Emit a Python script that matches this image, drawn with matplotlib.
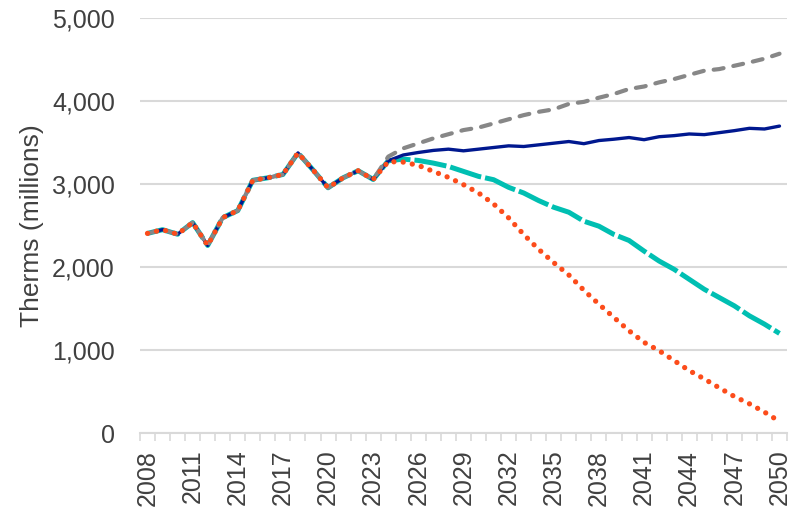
import numpy as np
import matplotlib
matplotlib.use("Agg")
from matplotlib import pyplot as plt
from matplotlib.ticker import FuncFormatter, MultipleLocator

plt.rcParams['font.family'] = ['Liberation Sans', 'DejaVu Sans']

years = np.arange(2008, 2051)

# observed consumption, 2008-2023 (shared by every scenario)
history = [2405, 2450, 2395, 2535, 2260, 2595, 2680, 3045, 3075, 3115,
           3375, 3170, 2955, 3075, 3160, 3055]

# projections 2024-2050
high = [3330, 3430, 3490, 3550, 3600, 3650, 3680, 3730, 3780, 3830,
        3870, 3900, 3965, 3990, 4040, 4085, 4145, 4175, 4225, 4265,
        4315, 4365, 4385, 4425, 4465, 4510, 4570]
reference = [3280, 3350, 3380, 3405, 3420, 3400, 3420, 3440, 3460, 3452,
             3472, 3492, 3512, 3486, 3524, 3540, 3560, 3534, 3570, 3583,
             3603, 3595, 3619, 3643, 3671, 3663, 3698]
moderate = [3280, 3300, 3284, 3252, 3212, 3152, 3092, 3052, 2960, 2892,
            2800, 2720, 2660, 2552, 2492, 2392, 2320, 2192, 2072, 1972,
            1852, 1732, 1632, 1532, 1412, 1312, 1200]
deep = [3270, 3264, 3224, 3152, 3080, 2992, 2892, 2760, 2592, 2392,
        2212, 2052, 1904, 1720, 1552, 1392, 1232, 1092, 992, 872,
        752, 652, 544, 440, 352, 252, 140]

tick_years = years[::3]
text_color = '#404040'
grid_color = '#D9D9D9'

fig = plt.figure(figsize=(7.89, 5.15), dpi=100)
ax = fig.add_axes([0.1774, 0.1592, 0.8201, 0.8058])

ax.plot(years, history + moderate, color='#00BFB2', lw=3.6,
        linestyle=(0, (6.5, 0.8)), dash_capstyle='butt', zorder=3)
ax.plot(years, history + reference, color='#00188F', lw=2.4,
        solid_capstyle='round', solid_joinstyle='round', zorder=4)
ax.plot(years, history + high, color='#878787', lw=3.0,
        linestyle=(0, (2.4, 2.4)), dash_capstyle='round', zorder=5)
ax.plot(years, history + deep, color='#FC4C1B', lw=3.8,
        linestyle=(0, (0.01, 1.75)), dash_capstyle='round', zorder=6)

ax.set_xlim(2007.5, 2050.5)
ax.set_ylim(0, 5000)
ax.yaxis.set_major_locator(MultipleLocator(1000))
ax.yaxis.set_major_formatter(FuncFormatter(lambda v, p: '{:,.0f}'.format(v)))
ax.grid(axis='y', color=grid_color, lw=1.5)
ax.set_axisbelow(True)

ax.set_xticks(tick_years)
ax.set_xticklabels([str(y) for y in tick_years], rotation=90)
ax.set_xticks(np.arange(2007.5, 2051, 1), minor=True)
ax.tick_params(axis='x', which='major', length=0, pad=12,
               labelsize=18, labelcolor=text_color)
ax.tick_params(axis='x', which='minor', length=6, width=1.2,
               color=grid_color)
ax.tick_params(axis='y', length=0, pad=18, labelsize=18,
               labelcolor=text_color)

for side in ['left', 'right', 'top']:
    ax.spines[side].set_visible(False)
ax.spines['bottom'].set_color(grid_color)
ax.spines['bottom'].set_linewidth(1.5)

ax.set_ylabel('Therms (millions)', fontsize=19, color=text_color,
              labelpad=6)

fig.savefig('out.png', dpi=100)
